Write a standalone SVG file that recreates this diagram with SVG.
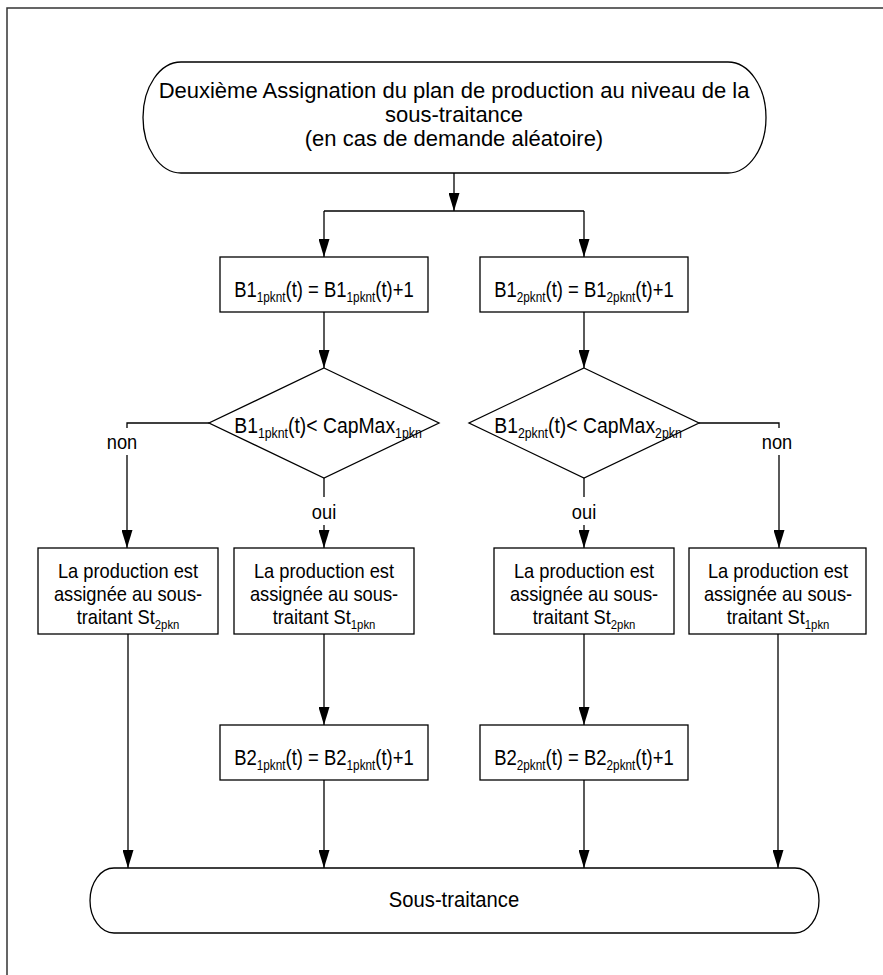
<svg xmlns="http://www.w3.org/2000/svg" width="883" height="975" viewBox="0 0 883 975">
<style>
.shape{fill:#fff;stroke:#000;stroke-width:1.3}
.ln{fill:none;stroke:#000;stroke-width:1.3}
.t{font-family:"Liberation Sans",Arial,sans-serif;fill:#000;text-anchor:middle}
.h{font-size:22px}
.b{font-size:21px}
.f{font-size:22px}
.sub{font-size:14px}
.sb{font-size:13px}
</style>
<defs>
<marker id="ah" markerUnits="userSpaceOnUse" markerWidth="18" markerHeight="11" viewBox="0 0 18 11" refX="18" refY="5.5" orient="auto">
<path d="M0,0 L18,5.5 L0,11 Z" fill="#000"/>
</marker>
</defs>
<rect width="883" height="975" fill="#fff"/>
<g id="frame"><path d="M7,975 V8 H883" fill="none" stroke="#333" stroke-width="1.5"/></g>

<g id="start">
<path class="shape" d="M181,62 H728 A38,55.5 0 0 1 728,173 H181 A38,55.5 0 0 1 181,62 Z"/>
<text class="t h" x="454" y="98">Deuxième Assignation du plan de production au niveau de la</text>
<text class="t h" x="454" y="122">sous-traitance</text>
<text class="t h" x="454" y="146">(en cas de demande aléatoire)</text>
</g>

<g id="b1_1">
<rect class="shape" x="220" y="257" width="208" height="55"/>
<text class="t f" transform="translate(324,0) scale(0.84,1)" x="0" y="297">B1<tspan class="sub" dy="5">1pknt</tspan><tspan dy="-5">(t) = B1</tspan><tspan class="sub" dy="5">1pknt</tspan><tspan dy="-5">(t)+1</tspan></text>
</g>
<g id="b1_2">
<rect class="shape" x="480" y="257" width="208" height="55"/>
<text class="t f" transform="translate(584,0) scale(0.84,1)" x="0" y="297">B1<tspan class="sub" dy="5">2pknt</tspan><tspan dy="-5">(t) = B1</tspan><tspan class="sub" dy="5">2pknt</tspan><tspan dy="-5">(t)+1</tspan></text>
</g>

<g id="d1">
<path class="shape" d="M324,368 L439,423 L324,478 L209,423 Z"/>
<text class="t f" transform="translate(328,0) scale(0.88,1)" x="0" y="433">B1<tspan class="sub" dy="5">1pknt</tspan><tspan dy="-5">(t)&lt; CapMax</tspan><tspan class="sub" dy="5">1pkn</tspan></text>
</g>
<g id="d2">
<path class="shape" d="M584,368 L699,423 L584,478 L469,423 Z"/>
<text class="t f" transform="translate(588,0) scale(0.88,1)" x="0" y="433">B1<tspan class="sub" dy="5">2pknt</tspan><tspan dy="-5">(t)&lt; CapMax</tspan><tspan class="sub" dy="5">2pkn</tspan></text>
</g>

<g id="p1">
<rect class="shape" x="38" y="548" width="180" height="86"/>
<g transform="translate(128,0) scale(0.87,1)">
<text class="t b" x="0" y="578">La production est</text>
<text class="t b" x="0" y="601">assignée au sous-</text>
<text class="t b" x="0" y="624">traitant St<tspan class="sb" dy="5">2pkn</tspan></text>
</g>
</g>
<g id="p2">
<rect class="shape" x="234" y="548" width="180" height="86"/>
<g transform="translate(324,0) scale(0.87,1)">
<text class="t b" x="0" y="578">La production est</text>
<text class="t b" x="0" y="601">assignée au sous-</text>
<text class="t b" x="0" y="624">traitant St<tspan class="sb" dy="5">1pkn</tspan></text>
</g>
</g>
<g id="p3">
<rect class="shape" x="494" y="548" width="180" height="86"/>
<g transform="translate(584,0) scale(0.87,1)">
<text class="t b" x="0" y="578">La production est</text>
<text class="t b" x="0" y="601">assignée au sous-</text>
<text class="t b" x="0" y="624">traitant St<tspan class="sb" dy="5">2pkn</tspan></text>
</g>
</g>
<g id="p4">
<rect class="shape" x="689" y="548" width="177" height="86"/>
<g transform="translate(778,0) scale(0.87,1)">
<text class="t b" x="0" y="578">La production est</text>
<text class="t b" x="0" y="601">assignée au sous-</text>
<text class="t b" x="0" y="624">traitant St<tspan class="sb" dy="5">1pkn</tspan></text>
</g>
</g>

<g id="b2_1">
<rect class="shape" x="220" y="725" width="208" height="55"/>
<text class="t f" transform="translate(324,0) scale(0.84,1)" x="0" y="765">B2<tspan class="sub" dy="5">1pknt</tspan><tspan dy="-5">(t) = B2</tspan><tspan class="sub" dy="5">1pknt</tspan><tspan dy="-5">(t)+1</tspan></text>
</g>
<g id="b2_2">
<rect class="shape" x="480" y="725" width="208" height="55"/>
<text class="t f" transform="translate(584,0) scale(0.84,1)" x="0" y="765">B2<tspan class="sub" dy="5">2pknt</tspan><tspan dy="-5">(t) = B2</tspan><tspan class="sub" dy="5">2pknt</tspan><tspan dy="-5">(t)+1</tspan></text>
</g>

<g id="end">
<path class="shape" d="M114,868 H795 A24,32.5 0 0 1 795,933 H114 A24,32.5 0 0 1 114,868 Z"/>
<text class="t h" transform="translate(454,0) scale(0.92,1)" x="0" y="907">Sous-traitance</text>
</g>

<g id="connectors">
<path class="ln" d="M454,173 V211" marker-end="url(#ah)"/>
<path class="ln" d="M324,211 H584"/>
<path class="ln" d="M324,211 V257" marker-end="url(#ah)"/>
<path class="ln" d="M584,211 V257" marker-end="url(#ah)"/>
<path class="ln" d="M324,312 V368" marker-end="url(#ah)"/>
<path class="ln" d="M584,312 V368" marker-end="url(#ah)"/>
<path class="ln" d="M209,423 H127 V428"/>
<text class="t b" transform="translate(122,0) scale(0.87,1)" x="0" y="449">non</text>
<path class="ln" d="M127,455 V548" marker-end="url(#ah)"/>
<path class="ln" d="M699,423 H779 V428"/>
<text class="t b" transform="translate(777,0) scale(0.87,1)" x="0" y="449">non</text>
<path class="ln" d="M779,455 V548" marker-end="url(#ah)"/>
<path class="ln" d="M324,478 V497"/>
<text class="t b" transform="translate(324,0) scale(0.87,1)" x="0" y="519">oui</text>
<path class="ln" d="M324,525 V548" marker-end="url(#ah)"/>
<path class="ln" d="M584,478 V497"/>
<text class="t b" transform="translate(584,0) scale(0.87,1)" x="0" y="519">oui</text>
<path class="ln" d="M584,525 V548" marker-end="url(#ah)"/>
<path class="ln" d="M324,634 V725" marker-end="url(#ah)"/>
<path class="ln" d="M584,634 V725" marker-end="url(#ah)"/>
<path class="ln" d="M128,634 V868" marker-end="url(#ah)"/>
<path class="ln" d="M324,780 V868" marker-end="url(#ah)"/>
<path class="ln" d="M584,780 V868" marker-end="url(#ah)"/>
<path class="ln" d="M778,634 V868" marker-end="url(#ah)"/>
</g>
</svg>
